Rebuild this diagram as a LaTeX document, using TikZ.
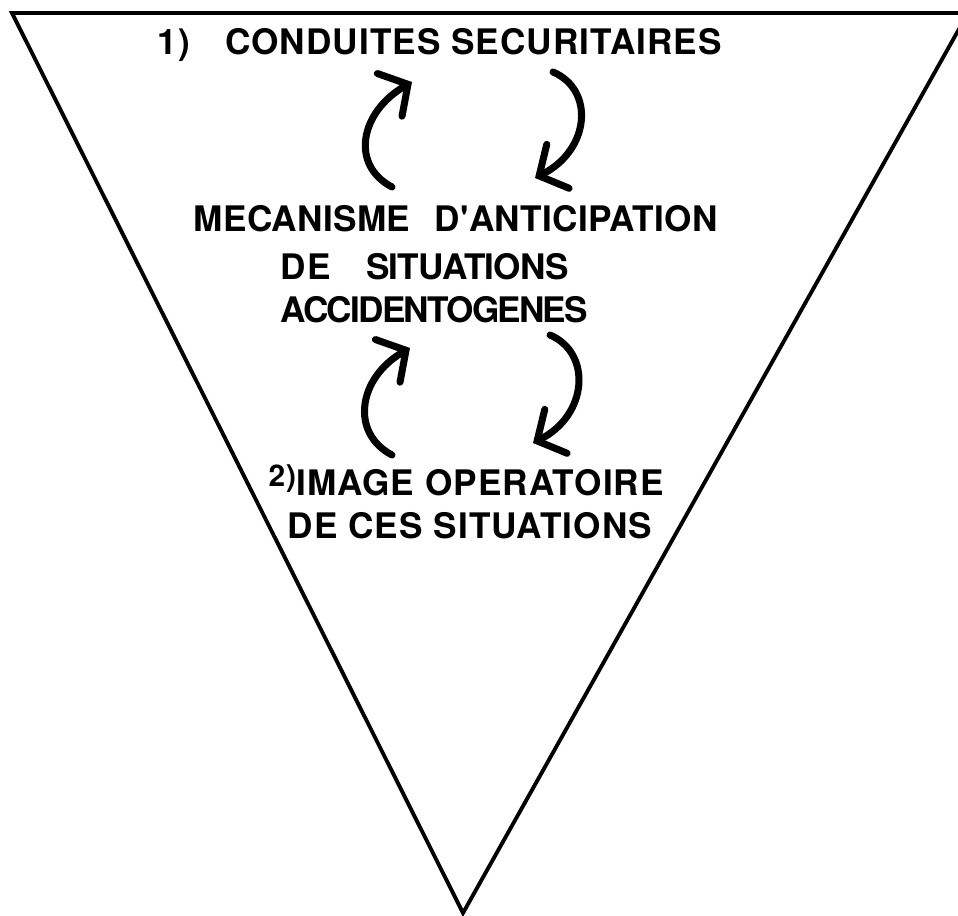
\documentclass[tikz,border=0pt]{standalone}
\usepackage{fontspec}
\setmainfont{TeX Gyre Heros}
\newfontfamily\labelfont[LetterSpace=3.0]{TeX Gyre Heros}
\usetikzlibrary{arrows.meta}

\tikzset{
  cyclearrow/.style={line width=2pt, line cap=round, -{Straight Barb[length=6pt, width=14pt, line cap=round]}},
  level/.style={anchor=base west, inner sep=0pt, font=\labelfont\bfseries\fontsize{10}{12}\selectfont}
}

\begin{document}
\begin{tikzpicture}[x=0.01cm, y=-0.01cm]
\useasboundingbox (0,0) rectangle (958,916);

% ---------------- Funnel ----------------
\draw[line width=1.1pt] (12,13) -- (968,13) -- (463,913) -- cycle;

% ---------------- Levels ----------------
\node[level] (cond) at (157,55) {1)\hspace{10pt}CONDUITES SECURITAIRES};

\node[level] (mec1) at (193,232) {\addfontfeature{LetterSpace=1.0}MECANISME\hspace{4pt} D'ANTICIPATION};
\node[level] (mec2) at (280,280) {DE\hspace{7pt} {\addfontfeature{LetterSpace=-2.0}SITUATIONS}};
\node[level] (mec3) at (280,323) {\addfontfeature{LetterSpace=-5.0}ACCIDENTOGENES};

\node[level] (img1) at (268,495) {\raisebox{2.5pt}{\fontsize{8.5}{10}\selectfont 2)}IMAGE OPERATOIRE};
\node[level] (img2) at (287,538) {DE CES SITUATIONS};

% ---------------- Cycle arrows ----------------
\coordinate (aL1) at (392,187); \coordinate (aL2) at (412,82);
\coordinate (aR1) at (553,72);  \coordinate (aR2) at (535,178);
\coordinate (bL1) at (392,455); \coordinate (bL2) at (410,348);
\coordinate (bR1) at (550,335); \coordinate (bR2) at (533,443);

\draw[cyclearrow] (aL1) .. controls +(-42,-22) and +(-52,30) .. (aL2);
\draw[cyclearrow] (aR1) .. controls +(42,18) and +(55,-28) .. (aR2);
\draw[cyclearrow] (bL1) .. controls +(-42,-22) and +(-52,30) .. (bL2);
\draw[cyclearrow] (bR1) .. controls +(42,18) and +(55,-28) .. (bR2);
\end{tikzpicture}
\end{document}
